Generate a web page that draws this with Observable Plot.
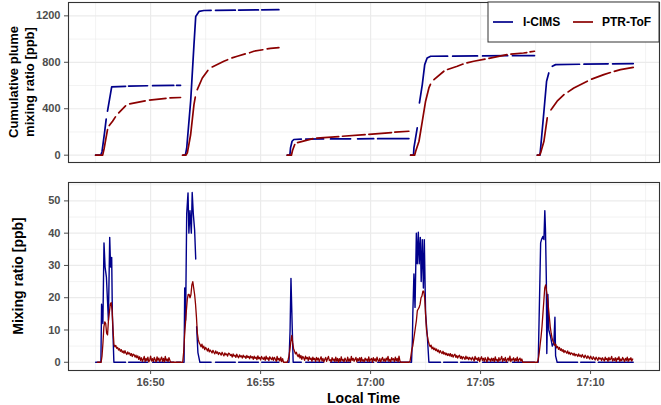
<!DOCTYPE html>
<html><head><meta charset="utf-8">
<script src="https://cdn.jsdelivr.net/npm/d3@7"></script>
<script src="https://cdn.jsdelivr.net/npm/@observablehq/plot@0.6"></script>
<style>
body{margin:0;background:#fff;}
#wrap{position:relative;width:661px;height:405px;font-family:"Liberation Sans",Arial,sans-serif;background:#fff;}
#wrap svg{display:block;}
</style></head><body><div id="wrap"></div>
<script>
// ---- axes / labels ----
const xMajorTicks = ["16:50","16:55","17:00","17:05","17:10"];
const xMinorTicks = ["16:47:30","16:52:30","16:57:30","17:02:30","17:07:30","17:12:30"];
const xDomain = ["16:46:16","17:13:08"];
const yTopTicks = [0,400,800,1200];
const yTopMinor = [200,600,1000];
const yTopDomain = [-63,1315];
const yBotTicks = [0,10,20,30,40,50];
const yBotMinor = [5,15,25,35,45,55];
const yBotDomain = [-2.55,55.7];
const seriesNames = ["I-CIMS","PTR-ToF"];
const seriesColors = ["#00008b","#8b0000"];
const topTitle = ["Cumulative plume","mixing ratio [ppb]"];
const botTitle = "Mixing ratio [ppb]";
const xTitle = "Local Time";

// ---- cumulative plume mixing ratio [minutes after 16:00, ppb]; null = gap ----
const icimsCum = [
 [47.50,0],[47.73,0],[47.79,30],[47.91,200],[47.98,310],null,[48.04,380],[48.23,588],[48.86,592],null,[49.00,594],[49.86,598],null,[50.09,599],[51.05,601],null,[51.18,602],[51.36,602],null,
 [51.49,0],[51.58,0],[51.64,60],[51.82,465],[51.97,950],[52.05,1195],[52.20,1238],[52.42,1246],[52.75,1247],null,[52.95,1248],[53.85,1249],null,[54.00,1250],[54.90,1251],null,[55.05,1252],[55.83,1253],null,
 [56.21,0],[56.33,0],[56.36,63],[56.43,120],[56.51,135],[56.85,138],null,[57.05,139],[57.86,140],null,[58.18,140],[59.09,141],null,[59.41,141],[60.14,142],null,[60.32,142],[61.74,143],null,
 [61.82,0],[61.95,0],[61.97,63],[62.12,235],null,[62.22,450],[62.35,608],[62.46,780],[62.57,837],[62.73,852],[63.50,853],null,[63.73,853],[64.86,855],null,[65.09,855],[66.23,857],null,[66.45,857],[67.45,858],null,
 [67.58,0],[67.70,0],[67.73,63],[67.88,378],[68.00,637],[68.10,708],null,[68.26,766],[68.41,780],[69.50,783],null,[69.70,784],[70.80,787],null,[71.00,787],[71.94,789]
];
const ptrCum = [
 [47.50,0],[47.82,0],[47.89,60],[48.04,220],null,[48.12,255],[48.27,292],[48.40,330],null,[48.55,365],[48.86,425],null,[49.05,442],[49.75,468],null,[49.95,475],[50.70,490],null,[50.88,493],[51.36,497],null,
 [51.45,0],[51.60,0],[51.67,20],[51.82,178],[51.97,436],[52.03,500],null,[52.12,565],[52.35,665],[52.60,730],null,[52.80,760],[53.33,809],[53.50,822],null,[53.70,838],[53.94,852],[54.30,872],null,[54.50,882],[54.69,895],[55.10,908],null,[55.30,915],[55.45,920],[55.83,926],null,
 [56.21,0],[56.40,0],[56.45,40],[56.55,92],null,[56.68,108],[57.38,143],null,[57.55,147],[58.55,160],null,[58.72,163],[59.75,177],null,[59.92,180],[60.95,195],null,[61.10,198],[61.74,206],null,
 [61.82,0],[62.00,0],[62.05,34],[62.20,120],[62.35,292],[62.50,465],[62.65,579],[62.72,610],null,[62.88,651],[63.33,723],null,[63.50,738],[63.94,766],[64.20,785],null,[64.38,795],[64.69,809],[65.20,828],null,[65.38,834],[66.20,866],null,[66.38,870],[66.95,880],[67.10,884],null,[67.25,889],[67.45,895],null,
 [67.58,0],[67.68,0],[67.73,20],[67.88,120],[68.03,321],null,[68.20,390],[68.26,407],[68.48,465],[68.79,522],null,[68.98,545],[69.24,579],[69.85,637],null,[70.05,655],[70.60,694],[70.90,712],null,[71.08,722],[71.36,737],[71.94,757]
];

// ---- mixing ratio ----
const icimsMix = [
 [47.50,0],[47.74,0],[47.77,18],[47.83,12],[47.88,37],[47.93,29.5],[47.99,26.4],[48.04,19],[48.08,13],[48.14,38.7],[48.18,29.5],[48.23,32.5],[48.26,15],[48.33,0],[48.86,0],null,[49.00,0],[49.86,0],null,[50.09,0],[51.05,0],null,[51.18,0],[51.36,0],null,
 [51.49,0],[51.52,0],[51.55,23],[51.59,13],[51.64,46],[51.70,52.5],[51.74,40],[51.79,47],[51.85,40],[51.89,52.6],[51.94,46],[52.00,41],[52.05,32],null,[52.09,11],[52.15,3],[52.24,0],[52.75,0],null,[52.95,0],[53.85,0],null,[54.00,0],[54.90,0],null,[55.05,0],[55.83,0],null,
 [56.21,0],[56.29,0],[56.34,10],[56.38,26],[56.44,10],[56.48,0],[56.85,0],null,[57.05,0],[57.86,0],null,[58.18,0],[59.09,0],null,[59.41,0],[60.14,0],null,[60.32,0],[61.74,0],null,
 [61.82,0],[61.86,0],[61.90,7],[61.92,15],[61.97,27.4],[62.02,17],[62.08,40],[62.12,30.5],[62.17,40.3],[62.21,30.5],[62.26,38.7],[62.30,25],[62.35,38],[62.40,23],[62.44,38],[62.50,15],[62.58,8],[62.65,0],[63.18,0],null,[63.32,0],[63.95,0],null,[64.09,0],[64.86,0],null,[65.09,0],[66.23,0],null,[66.45,0],[67.45,0],null,
 [67.58,0],[67.62,0],[67.68,20],[67.73,37],[67.77,38],[67.83,39],[67.88,38],[67.92,47],[67.95,41],[67.99,25],[68.01,2.7],[68.06,21],[68.10,10],[68.18,8],[68.26,5],[68.33,6],[68.38,14],[68.41,2],[68.48,0],[69.41,0],null,[69.55,0],[70.20,0],null,[70.35,0],[71.94,0]
];
// PTR-ToF, one value every 2.5 s from 16:47:35 (one row = one minute)
const ptrStart = "16:47:35";
const ptrStepMs = 2500;
const ptrMix = [
 0,0,0,0,0,2,6,11,12.5,12,9,8.5,13,15.5,18,18.5,16,10,5.5,4.8,5.2,4.3,4.6,3.8,
 4.2,3.4,3.9,3.1,3.5,2.8,3.6,2.9,2.4,3.2,2.6,2.9,2.1,2.7,1.8,2.5,2.3,1.6,2.2,1.4,2.0,0.9,1.7,0.6,
 1.4,0.3,0.9,1.8,0.2,1.2,0.5,1.6,0.1,0.7,1.9,0.4,1.1,0.2,1.5,0.8,0.1,1.7,0.6,1.3,0.2,0.9,1.6,0.3,
 1.2,0.1,1.8,0.5,1.0,0.2,1.4,0.6,0,0,0,0,0,0,0,0,0,0,0,0,0,0,3,8,
 12,16,19.5,21,21,20,21,24,25,23,21,18,14,9,7,6,5.5,4.8,5.6,4.4,5.0,3.9,4.6,4.1,
 3.5,4.3,3.2,3.8,3.4,2.9,3.7,3.1,2.6,3.5,2.8,3.2,2.4,3.0,2.7,2.2,3.1,2.5,2.0,2.9,2.3,2.6,1.9,2.8,
 2.7,2.1,2.4,1.6,2.6,1.9,2.2,1.5,2.5,1.8,1.4,2.3,1.7,2.0,1.3,2.2,1.6,1.9,1.2,2.1,1.5,1.8,1.1,2.0,
 1.4,1.7,0.9,1.9,1.2,1.6,0.8,2.0,1.1,1.5,0.7,1.8,1.3,0.9,1.6,0.6,1.9,1.0,1.4,0.5,1.7,1.2,0.8,1.6,
 0.6,1.5,1.0,0.3,1.8,0.7,1.2,0.4,1.6,0.2,1.1,0,0,0,0,0,0.8,2,4,6.5,8.3,6,4.2,3.4,
 2.6,3.1,2.2,1.7,2.5,1.3,2.1,0.9,1.8,1.4,0.6,1.9,1.1,1.5,0.5,1.7,0.9,1.3,0.3,1.6,0.8,1.2,0.2,1.5,
 0.7,1.3,0.2,1.0,1.7,0.4,1.2,0.1,0.9,1.5,0.3,1.1,1.8,0.5,0.8,0.1,1.4,0.6,1.0,0.2,1.6,0.4,1.2,0.0,
 1.1,0.3,1.7,0.5,0.9,0.1,1.3,0.7,0.2,1.6,0.4,1.0,0.1,1.8,0.6,1.2,0.3,0.9,1.5,0.1,1.1,0.5,1.4,0.2,
 1.5,0.4,0.8,0.1,1.3,0.6,1.0,0.2,1.7,0.3,0.9,1.2,0.0,1.4,0.5,1.1,0.2,1.6,0.7,0.3,1.2,0.1,0.9,1.5,
 0.4,1.0,0.2,1.3,0.6,1.8,0.3,0.9,0.1,1.4,0.7,1.1,0.2,1.6,0.5,1.2,0.1,1.9,0.4,0,0,0,0,0,
 0,0,0,0,0,0.3,2,4,5,7,9,11,13,16,16.5,17,18,20,20.5,22,22,20,15,10,
 8,6.5,5.5,4.8,5.3,4.2,4.7,3.9,4.4,3.6,4.1,3.3,3.8,2.9,3.6,3.1,2.7,3.4,2.5,3.0,2.3,2.8,2.1,2.6,
 2.0,2.7,1.8,2.4,1.6,2.2,2.5,1.5,2.1,1.3,1.9,2.2,1.2,1.8,1.0,1.7,1.4,0.9,1.9,1.1,1.6,0.8,1.5,1.2,
 0.7,1.6,1.0,0.4,1.8,0.9,1.3,0.5,1.5,0.2,1.1,1.7,0.6,1.2,0.3,1.4,0.8,0.1,1.6,0.7,1.0,0.3,1.3,0.5,
 1.2,0.2,1.7,0.6,0.9,0.1,1.4,0.5,1.0,1.8,0.3,1.1,0.6,1.5,0.1,0.8,1.3,0.4,1.9,0.2,1.0,0.7,1.4,0.3,
 1.1,0.5,1.6,0.2,0.9,1.3,0.4,1.0,0,0,0,0,0,0,0,0,0,0,0,0,0,0,0,0,
 0,1,3,5.5,8,11,15,19,23,24,22,20,17,14,11,9,7.5,6.5,6,5.2,5.6,4.5,4.9,4.0,
 4.6,3.7,4.2,3.4,3.9,3.0,3.6,3.2,2.8,3.5,2.6,3.1,2.4,2.9,2.7,2.2,2.8,2.0,2.5,2.3,1.8,2.6,1.9,2.2,
 1.6,2.4,1.8,1.4,2.2,1.7,1.2,2.0,1.5,1.0,1.9,1.3,0.9,1.7,1.2,0.7,1.6,1.1,0.6,1.5,1.0,1.3,0.5,1.4,
 0.9,0.4,1.6,0.8,1.2,0.3,1.5,0.7,1.0,1.8,0.4,1.1,0.6,1.4,0.2,1.3,0.8,1.7,0.3,1.0,0.5,1.5,0.9,0.2,
 1.2,0.6,1.6,0.3,1.1,0.7,1.4,0.4,1.0
];

// ---- helpers ----
const FONT = '"Liberation Sans", Arial, sans-serif';
function toDate(hms){ const [h,m,s=0] = hms.split(":").map(Number); return new Date(Date.UTC(2020,0,1,h,m,s)); }
function fromMin(m){ return new Date(Date.UTC(2020,0,1,16,0,0) + Math.round(m*60000)); }
const toRows = arr => arr.map(p => p ? {t: fromMin(p[0]), v: p[1]} : {t: null, v: null});
const t0 = toDate(ptrStart).getTime();
const ptrRows = ptrMix.map((v,i) => ({t: new Date(t0 + i*ptrStepMs), v}));
const xd = xDomain.map(toDate);

function grids(yMinor, yMajor){
  return [
    Plot.gridX({ticks: xMinorTicks.map(toDate), stroke:"#ebebeb", strokeOpacity:1, strokeWidth:0.6}),
    Plot.gridY({ticks: yMinor, stroke:"#ebebeb", strokeOpacity:1, strokeWidth:0.6}),
    Plot.gridX({ticks: xMajorTicks.map(toDate), stroke:"#ebebeb", strokeOpacity:1, strokeWidth:1.2}),
    Plot.gridY({ticks: yMajor, stroke:"#ebebeb", strokeOpacity:1, strokeWidth:1.2})
  ];
}
const axisStyle = {tickSize:4, tickPadding:4, fontSize:11, fontWeight:"bold", color:"#4d4d4d", label:null};

const topPlot = Plot.plot({
  width:661, height:175, marginLeft:68, marginRight:2, marginTop:2, marginBottom:13,
  style:{fontFamily:FONT, background:"white"},
  x:{type:"utc", domain:xd, axis:null},
  y:{domain:yTopDomain},
  marks:[
    ...grids(yTopMinor, yTopTicks),
    Plot.line(toRows(icimsCum), {x:"t", y:"v", stroke:seriesColors[0], strokeWidth:1.7}),
    Plot.line(toRows(ptrCum), {x:"t", y:"v", stroke:seriesColors[1], strokeWidth:1.7}),
    Plot.frame({stroke:"#333", strokeWidth:1.1}),
    Plot.axisY({ticks:yTopTicks, tickFormat:d => String(d), ...axisStyle})
  ]
});

const botPlot = Plot.plot({
  width:661, height:230, marginLeft:68, marginRight:2, marginTop:7, marginBottom:35,
  style:{fontFamily:FONT, background:"white"},
  x:{type:"utc", domain:xd},
  y:{domain:yBotDomain},
  marks:[
    ...grids(yBotMinor, yBotTicks),
    Plot.line(toRows(icimsMix), {x:"t", y:"v", stroke:seriesColors[0], strokeWidth:1.4}),
    Plot.line(ptrRows, {x:"t", y:"v", stroke:seriesColors[1], strokeWidth:1.3}),
    Plot.frame({stroke:"#333", strokeWidth:1.1}),
    Plot.axisY({ticks:yBotTicks, tickFormat:d => String(d), ...axisStyle}),
    Plot.axisX({ticks:xMajorTicks.map(toDate), tickFormat:d3.utcFormat("%H:%M"), ...axisStyle})
  ]
});

const wrap = document.getElementById("wrap");
wrap.appendChild(topPlot);
wrap.appendChild(botPlot);

function title(sel, x, y, rot, size, txt){
  sel.append("text").attr("transform", `translate(${x},${y})` + (rot ? " rotate(-90)" : ""))
    .attr("text-anchor","middle").attr("dominant-baseline","central")
    .attr("font-size",size).attr("font-weight","bold").attr("fill","#000").text(txt);
}
const ts = d3.select(topPlot), bs = d3.select(botPlot);
title(ts, 13.5, 82, true, 13, topTitle[0]);
title(ts, 29, 82, true, 13, topTitle[1]);
title(bs, 17.5, 101, true, 14, botTitle);
title(bs, 363.5, 223, false, 14, xTitle);

// legend (inside top panel, top-right)
const lg = ts.append("g");
lg.append("rect").attr("x",488).attr("y",2).attr("width",171).attr("height",40).attr("fill","white").attr("stroke","#333").attr("stroke-width",1);
const lx = [[493,523],[573,602]];
seriesNames.forEach((n,i) => {
  lg.append("line").attr("x1",lx[i][0]).attr("x2",lx[i][0]+20).attr("y1",22).attr("y2",22).attr("stroke",seriesColors[i]).attr("stroke-width",1.7);
  lg.append("text").attr("x",lx[i][1]).attr("y",22).attr("text-anchor","start").attr("dominant-baseline","central")
    .attr("font-size",12).attr("font-weight","bold").attr("fill","#000").text(n);
});
</script></body></html>
